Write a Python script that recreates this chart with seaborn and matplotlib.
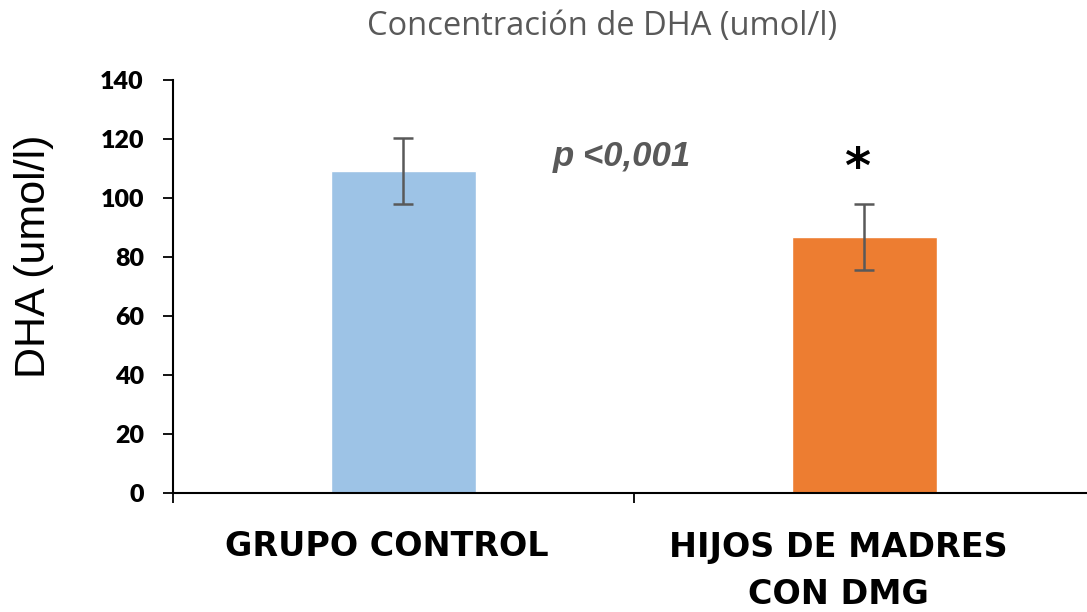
import matplotlib
matplotlib.use("Agg")
import matplotlib.pyplot as plt
import matplotlib.transforms as mtransforms
import seaborn as sns
import pandas as pd

categories = ["GRUPO CONTROL", "HIJOS DE MADRES\nCON DMG"]
values = [109.2, 86.8]
errors = [11.2, 11.2]
colors = ["#9DC3E6", "#ED7D31"]
yticks = [0, 20, 40, 60, 80, 100, 120, 140]
title = "Concentración de DHA (umol/l)"
ylabel = "DHA (umol/l)"
p_text = "p <0,001"
star_text = "*"

sns.set_theme(style="white")
plt.rcParams["font.family"] = ["DejaVu Sans"]

df = pd.DataFrame({"grupo": categories, "dha": values})

fig = plt.figure(figsize=(10.87, 6.12), dpi=100)
ax = fig.add_axes([173 / 1087, 1 - 493 / 612, 1 - 173 / 1087, (493 - 80) / 612])

sns.barplot(data=df, x="grupo", y="dha", hue="grupo", palette=colors,
            width=0.315, errorbar=None, legend=False, ax=ax, saturation=1)
ax.errorbar(x=range(len(categories)), y=values, yerr=errors, fmt="none",
            ecolor="#595959", elinewidth=1.8, capsize=7, capthick=1.8)

ax.set_ylim(0, 140)
ax.set_xlim(-0.5, 1.483)
ax.set_yticks(yticks)
ax.set_yticklabels([str(v) for v in yticks], fontfamily="Lato", fontweight="heavy",
                   fontsize=18, color="black")
ax.tick_params(axis="y", direction="out", length=7, width=1.3, color="black", pad=14, left=True)

ax.set_xticks(range(len(categories)))
ax.set_xticklabels(categories, fontweight="heavy", fontsize=24, color="black",
                   linespacing=1.55)
ax.tick_params(axis="x", which="major", length=0, pad=27)
ax.set_xticks([-0.5, 0.5], minor=True)
ax.tick_params(axis="x", which="minor", direction="out", length=7, width=1.3,
               color="black", bottom=True)
for lbl, dx in zip(ax.get_xticklabels(), [-17, -26]):
    offset = mtransforms.ScaledTranslation(dx / 100, 0, fig.dpi_scale_trans)
    lbl.set_transform(lbl.get_transform() + offset)

ax.set_xlabel("")
ax.set_ylabel("")
for s in ["top", "right"]:
    ax.spines[s].set_visible(False)
for s in ["left", "bottom"]:
    ax.spines[s].set_color("black")
    ax.spines[s].set_linewidth(1.5)

ax.text(0.474, 114, p_text, ha="center", va="center", fontsize=25,
        fontfamily="Liberation Sans", fontweight="bold", fontstyle="italic",
        color="#595959")
ax.text(0.985, 110, star_text, ha="center", va="center", fontsize=36,
        fontweight="heavy", color="black")

fig.text(602 / 1087, 1 - 27 / 612, title, ha="center", va="center",
         fontsize=23.5, fontfamily="Open Sans", color="#595959")
fig.text(34 / 1087, 1 - 256 / 612, ylabel, ha="center", va="center",
         rotation=90, fontsize=31, fontfamily="Liberation Sans", color="black")

fig.savefig("out.png", dpi=100)
